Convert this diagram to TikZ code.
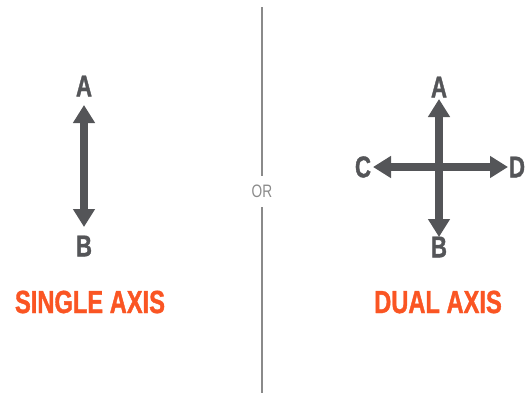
\documentclass[tikz,border=0pt]{standalone}
\usepackage{fontspec}
\setmainfont{Liberation Sans}
\newfontfamily\condfam[FakeStretch=0.76]{Liberation Sans}
\newfontfamily\condheavy[FakeStretch=0.74,FakeBold=1.2]{Liberation Sans Bold}
\usetikzlibrary{arrows.meta}
\definecolor{arrgray}{HTML}{545558}
\definecolor{axisorange}{HTML}{FA5523}
\definecolor{linegray}{HTML}{8A8A8A}
\tikzset{
  axisarrow/.style={draw=arrgray, line width=8pt, {Triangle[width=21pt,length=18pt]}-{Triangle[width=21pt,length=18pt]}},
  letter/.style={text=arrgray, font=\condheavy\fontsize{30}{30}\selectfont, inner sep=0pt},
  title/.style={text=axisorange, font=\condheavy\fontsize{32}{32}\selectfont, inner sep=0pt},
  divider/.style={draw=linegray, line width=1.2pt},
  ortext/.style={text=linegray, font=\condfam\fontsize{18}{18}\selectfont, inner sep=0pt}
}
\begin{document}
\begin{tikzpicture}[x=1pt,y=-1pt]
\useasboundingbox (0,0) rectangle (526,394);
% left single axis
\node[letter] (A1) at (84,86) {A};
\node[letter] (B1) at (84,246) {B};
\coordinate (a1) at (84,105);
\coordinate (b1) at (84,227);
\draw[axisarrow] (a1) -- (b1);
\node[title] (t1) at (90,302) {SINGLE AXIS};
% divider
\node[ortext] (or) at (262,191) {OR};
\coordinate (d1) at (262,7);
\coordinate (d2) at (262,393);
\draw[divider] (d1) -- (or.north |- 0,176);
\draw[divider] (or.south |- 0,207) -- (d2);
% right dual axis
\node[letter] (A2) at (439,87) {A};
\node[letter] (B2) at (439,247) {B};
\node[letter] (C2) at (363,167) {C};
\node[letter] (D2) at (517,167) {D};
\coordinate (a2) at (439,99);
\coordinate (b2) at (439,237);
\coordinate (c2) at (373,167);
\coordinate (d2r) at (508,167);
\draw[axisarrow] (a2) -- (b2);
\draw[axisarrow] (c2) -- (d2r);
\node[title] (t2) at (438,302) {DUAL AXIS};
\end{tikzpicture}
\end{document}
